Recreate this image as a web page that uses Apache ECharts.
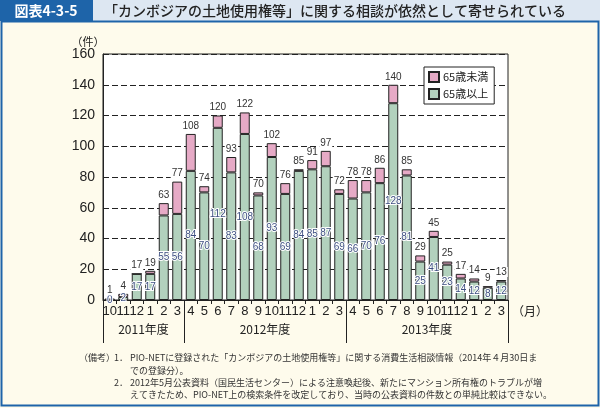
<!DOCTYPE html>
<html><head><meta charset="utf-8">
<script src="https://cdn.jsdelivr.net/npm/echarts@6/dist/echarts.min.js"></script>
<style>html,body{margin:0;padding:0;background:#fefbec;}#c{width:600px;height:408px;}</style>
</head><body><div id="c"></div>
<script>
const categories = ['10','11','12','1','2','3','4','5','6','7','8','9','10','11','12','1','2','3','4','5','6','7','8','9','10','11','12','1','2','3'];
const totals  = [1,4,17,19,63,77,108,74,120,93,122,70,102,76,85,91,97,72,78,78,86,140,85,29,45,25,17,14,9,13];
const over65  = [0,2,17,17,55,56,84,70,112,83,108,68,93,69,84,85,87,69,66,70,76,128,81,25,41,23,14,12,8,12];
const under65 = [1,2,0,2,8,21,24,4,8,10,14,2,9,7,1,6,10,3,12,8,10,12,4,4,4,2,3,2,1,1];
const fiscalYears = ['2011年度','2012年度','2013年度'];
const fiscalCounts = [6,12,12];
const yTicks = [0,20,40,60,80,100,120,140,160];
const seriesNames = ['65歳以上','65歳未満'];
const notes = [
 'PIO-NETに登録された「カンボジアの土地使用権等」に関する消費生活相談情報（2014年４月30日ま',
 'での登録分）。',
 '2012年5月公表資料（国民生活センター）による注意喚起後、新たにマンション所有権のトラブルが増',
 'えてきたため、PIO-NET上の検索条件を改定しており、当時の公表資料の件数との単純比較はできない。'
];

const NUM = '"Liberation Sans Narrow","Liberation Sans",Arial,sans-serif';
const JP = '"Noto Sans CJK JP","Noto Sans",sans-serif';
const chart = echarts.init(document.getElementById('c'), null, {renderer:'canvas'});
const G = {left:103, right:92, top:54, bottom:108};

const option = {
  animation:false,
  backgroundColor:'#fefbec',
  grid:{left:G.left, right:G.right, top:G.top, bottom:G.bottom, show:true, backgroundColor:'#fff', borderColor:'#222', borderWidth:1},
  legend:{
    data:[seriesNames[1], seriesNames[0]],
    orient:'vertical', left:424, top:67, itemWidth:10, itemHeight:10, itemGap:5,
    padding:[4,6,4,4], borderColor:'#222', borderWidth:1, backgroundColor:'#fff',
    textStyle:{fontFamily:JP, fontSize:11, color:'#222', padding:[0,0,0,-1]}, icon:'rect'
  },
  xAxis:{
    type:'category', data:categories,
    axisLine:{lineStyle:{color:'#222', width:1}},
    axisTick:{show:true, length:4, lineStyle:{color:'#222'}},
    axisLabel:{fontFamily:NUM, fontSize:13, color:'#222', margin:5, interval:0}
  },
  yAxis:{
    type:'value', min:yTicks[0], max:yTicks[yTicks.length-1], interval:yTicks[1]-yTicks[0],
    axisLine:{show:true, lineStyle:{color:'#222'}},
    axisTick:{show:false},
    axisLabel:{fontFamily:NUM, fontSize:14, color:'#222', margin:8},
    splitLine:{show:true, lineStyle:{color:'#222', type:[6,3], width:1}}
  },
  series:[
    {name:seriesNames[0], type:'bar', stack:'a', data:over65, barWidth:'74%',
     itemStyle:{color:'#b2d1bd', borderColor:'#222', borderWidth:1},
     label:{show:true, position:'inside', fontFamily:NUM, fontSize:10, color:'#3d4f80', textBorderColor:'#fff', textBorderWidth:2}},
    {name:seriesNames[1], type:'bar', stack:'a', data:under65, barWidth:'74%',
     itemStyle:{color:'#e6aac6', borderColor:'#222', borderWidth:1},
     label:{show:true, position:'top', distance:3, fontFamily:NUM, fontSize:10, color:'#333', backgroundColor:'#fff', padding:[0,1],
       formatter:p=>String(totals[p.dataIndex])}}
  ]
};
chart.setOption(option);

// decorations
const g = [];
// title bar
g.push({type:'rect', shape:{x:0,y:0,width:600,height:21}, style:{fill:'#dde7f2'}, silent:true});
g.push({type:'rect', shape:{x:0,y:0,width:93,height:21}, style:{fill:'#1e64a9'}, silent:true});
g.push({type:'text', style:{text:'図表4-3-5', x:46, y:11, align:'center', verticalAlign:'middle', fill:'#fff', font:'bold 14px '+JP}});
g.push({type:'text', style:{text:'「カンボジアの土地使用権等」に関する相談が依然として寄せられている', x:104, y:11, verticalAlign:'middle', fill:'#222', font:'500 14px '+JP}});
// frame
g.push({type:'rect', shape:{x:1.5,y:21.5,width:597,height:384}, style:{fill:'none', stroke:'#1e64a9', lineWidth:2}, silent:true});
// unit labels
g.push({type:'text', style:{text:'（件）', x:88, y:42, align:'center', verticalAlign:'middle', fill:'#222', font:'11px '+JP}});
const lastX = chart.convertToPixel({xAxisIndex:0}, categories.length-1);
const band = (chart.convertToPixel({xAxisIndex:0}, 1) - chart.convertToPixel({xAxisIndex:0}, 0));
const y0 = chart.convertToPixel({yAxisIndex:0}, 0);
g.push({type:'text', style:{text:'（月）', x:lastX + band/2 + 4, y:y0+11, verticalAlign:'middle', fill:'#222', font:'12px '+JP}});
// fiscal year separators and labels
let start = 0;
const bx = i => chart.convertToPixel({xAxisIndex:0}, i) - band/2;
g.push({type:'line', shape:{x1:bx(0)+0.5, y1:y0, x2:bx(0)+0.5, y2:343}, style:{stroke:'#222', lineWidth:1}});
fiscalYears.forEach((fy,k)=>{
  const end = start + fiscalCounts[k];
  const xs = bx(start), xe = bx(end-1) + band;
  g.push({type:'line', shape:{x1:Math.round(xe)+0.5, y1:y0, x2:Math.round(xe)+0.5, y2:343}, style:{stroke:'#222', lineWidth:1}});
  g.push({type:'text', style:{text:fy, x:(xs+xe)/2, y:y0+29, align:'center', verticalAlign:'middle', fill:'#222', font:'12px '+JP}});
  start = end;
});
// notes
g.push({type:'text', style:{text:'（備考）', x:79, y:358, verticalAlign:'middle', fill:'#333', font:'9px '+JP}});
g.push({type:'text', style:{text:'1．', x:114, y:358, verticalAlign:'middle', fill:'#333', font:'9px '+JP}});
g.push({type:'text', style:{text:'2．', x:114, y:383, verticalAlign:'middle', fill:'#333', font:'9px '+JP}});
const noteY = [358, 371, 383, 395];
notes.forEach((t,i)=>{
  g.push({type:'text', style:{text:t, x:130, y:noteY[i], verticalAlign:'middle', fill:'#333', font:'9px '+JP}});
});
chart.setOption({graphic:g});
</script></body></html>
